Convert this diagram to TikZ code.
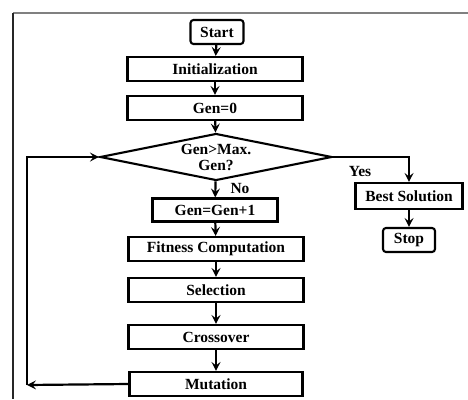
\documentclass[tikz,border=0pt]{standalone}
\usepackage{fontspec}
\setmainfont{Liberation Serif}
\usetikzlibrary{arrows.meta,shapes.geometric}

\tikzset{
  stepbox/.style={draw, line width=2.1, rectangle, inner sep=0,
    minimum width=175pt, minimum height=24pt},
  endbox/.style={draw, line width=2.1, rectangle, rounded corners=3pt,
    inner sep=0, minimum width=53pt, minimum height=24pt},
  flow/.style={line width=2.2, -{Stealth[length=9pt,width=9pt,inset=3.5pt]}},
}

\begin{document}
\begin{tikzpicture}[x=1pt, y=-1pt,
    font=\fontsize{15.5}{17}\selectfont\bfseries]

  \useasboundingbox (0,0) rectangle (468,399);
  % frame of the figure
  \draw[gray, line width=1.4] (13,13) -- (468,13);
  \draw[black!85, line width=1.4] (13,13) -- (13,399);

  \node[endbox] (start) at (217,32) {Start};
  \node[stepbox] (init) at (215,69) {Initialization};
  \node[stepbox] (gen0) at (215,108) {Gen=0};
  \node[draw, line width=2.1, diamond, inner sep=0, aspect=4.9,
    minimum width=232pt, minimum height=47pt, align=center]
    (test) at (216,157) {Gen>Max.\\[-1pt]Gen?};
  \node[stepbox, minimum width=125pt, minimum height=23pt]
    (geninc) at (215,210) {Gen=Gen+1};
  \node[stepbox] (fit) at (216,249) {Fitness Computation};
  \node[stepbox] (sel) at (216,290) {Selection};
  \node[stepbox] (cross) at (216,337) {Crossover};
  \node[stepbox, minimum width=173pt] (mut) at (216,384) {Mutation};

  \node[stepbox, minimum width=107pt, minimum height=26pt]
    (best) at (409,196) {Best Solution};
  \node[endbox, minimum width=52pt] (stop) at (409,240) {Stop};

  \node (no) at (240,188) {No};
  \node (yes) at (360,171) {Yes};

  \coordinate (loopbot) at (27,385);
  \coordinate (looptop) at (27,157);

  \draw[flow] (start) -- (init);
  \draw[flow] (init) -- (gen0);
  \draw[flow] (gen0) -- (test);
  \draw[flow] (test) -- (geninc);
  \draw[flow] (geninc) -- (fit);
  \draw[flow] (fit) -- (sel);
  \draw[flow] (sel) -- (cross);
  \draw[flow] (cross) -- (mut);
  \draw[flow] (test.east) -| (best.north);
  \draw[flow] (best) -- (stop);

  % back to the test
  \draw[flow] (mut.west) -- (loopbot);
  \draw[flow] (loopbot) -- (looptop) -- (test.west);

\end{tikzpicture}
\end{document}
